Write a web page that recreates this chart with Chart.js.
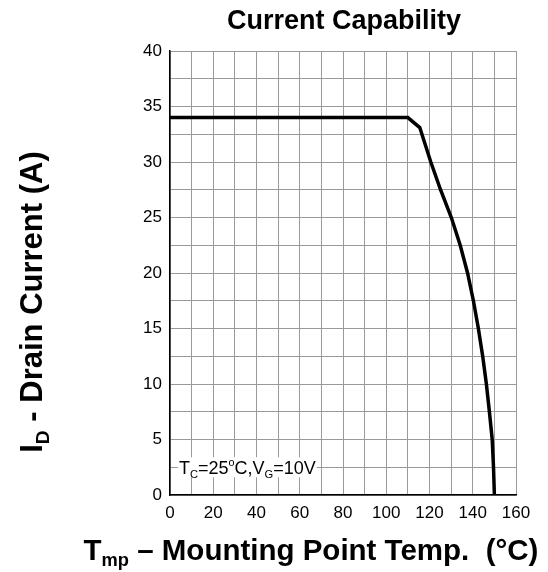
<!DOCTYPE html>
<html>
<head>
<meta charset="utf-8">
<script src="https://cdn.jsdelivr.net/npm/chart.js@4.4.0/dist/chart.umd.min.js"></script>
<style>
    html, body { margin: 0; padding: 0; background: #fff; }
    #wrap { width: 548px; height: 572px; }
</style>
</head>
<body>
<div id="wrap"><canvas id="capChart"></canvas></div>
<script>
// Данные кривой (Tmp, ID)
const tempPoints = [0, 110, 115.5, 120.6, 125.1, 130.1, 134.2, 137.6, 140.3, 142.6, 144.6, 146.3, 147.7, 149, 149.6, 150];
const currentPoints = [34, 34, 33.1, 30, 27.5, 25, 22.5, 20, 17.5, 15, 12.5, 10, 7.5, 5, 2.5, 0];

const xMin = 0, xMax = 160, xStep = 10, xLabelEvery = 20;
const yMin = 0, yMax = 40, yStep = 2.5, yLabelEvery = 5;

const FONT = '"Liberation Sans", Arial, sans-serif';

// Подписи с индексами
function drawRich(ctx, parts, size, bold) {
    let x = 0;
    parts.forEach(p => {
        let s = size, dy = 0;
        if (p.sub) { s = size * 0.62; dy = size * 0.22; }
        if (p.sup) { s = size * 0.6; dy = -size * 0.45; }
        ctx.font = (bold ? 'bold ' : '') + s + 'px ' + FONT;
        ctx.fillText(p.t, x, dy);
        x += ctx.measureText(p.t).width;
    });
    return x;
}
function richWidth(ctx, parts, size, bold) {
    let w = 0;
    parts.forEach(p => {
        let s = size;
        if (p.sub) s = size * 0.62;
        if (p.sup) s = size * 0.6;
        ctx.font = (bold ? 'bold ' : '') + s + 'px ' + FONT;
        w += ctx.measureText(p.t).width;
    });
    return w;
}

const textPlugin = {
    id: 'texts',
    afterDraw(chart) {
        const ctx = chart.ctx;
        const area = chart.chartArea;
        ctx.save();
        ctx.fillStyle = '#000';
        ctx.textBaseline = 'alphabetic';
        ctx.textAlign = 'left';

        // Заголовок
        const title = [{ t: 'Current Capability' }];
        let w = richWidth(ctx, title, 27, true);
        ctx.save();
        ctx.translate(344 - w / 2, 29);
        drawRich(ctx, title, 27, true);
        ctx.restore();

        // Ось X
        const xt = [{ t: 'T' }, { t: 'mp', sub: true }, { t: ' \u2013 Mounting Point Temp.  (\u00b0C)' }];
        w = richWidth(ctx, xt, 29.5, true);
        ctx.save();
        ctx.translate(311 - w / 2, 560);
        drawRich(ctx, xt, 29.5, true);
        ctx.restore();

        // Ось Y
        const yt = [{ t: 'I' }, { t: 'D', sub: true }, { t: ' - Drain Current (A)' }];
        w = richWidth(ctx, yt, 31, true);
        ctx.save();
        ctx.translate(42, 302 + w / 2);
        ctx.rotate(-Math.PI / 2);
        drawRich(ctx, yt, 31, true);
        ctx.restore();

        // Условия
        const note = [{ t: 'T' }, { t: 'C', sub: true }, { t: '=25' }, { t: 'o', sup: true }, { t: 'C,V' }, { t: 'G', sub: true }, { t: '=10V' }];
        w = richWidth(ctx, note, 18, false);
        const nx = area.left + 9, ny = chart.scales.y.getPixelForValue(2.5);
        ctx.fillStyle = '#fff';
        ctx.fillRect(nx - 1, ny - 10, w + 2, 20);
        ctx.fillStyle = '#000';
        ctx.save();
        ctx.translate(nx, ny + 6.5);
        drawRich(ctx, note, 18, false);
        ctx.restore();

        ctx.restore();
    }
};

const ctx = document.getElementById('capChart').getContext('2d');
new Chart(ctx, {
    type: 'line',
    data: {
        datasets: [{
            data: tempPoints.map((t, i) => ({ x: t, y: currentPoints[i] })),
            borderColor: '#000',
            borderWidth: 3.5,
            pointRadius: 0,
            tension: 0,
            fill: false
        }]
    },
    options: {
        responsive: true,
        maintainAspectRatio: false,
        animation: false,
        layout: {
            padding: { left: 0, top: 51, right: 32, bottom: 47 }
        },
        plugins: {
            legend: { display: false },
            title: { display: false },
            tooltip: { enabled: false }
        },
        scales: {
            x: {
                type: 'linear',
                min: xMin,
                max: xMax,
                ticks: {
                    stepSize: xStep,
                    autoSkip: false,
                    maxRotation: 0,
                    padding: 8,
                    color: '#000',
                    font: { family: FONT, size: 17 },
                    callback: v => (v % xLabelEvery === 0 ? v : '')
                },
                grid: { color: '#9a9a9a', lineWidth: 1, drawTicks: false },
                border: { color: '#000', width: 1.5 },
                afterFit: s => { s.height = 30; }
            },
            y: {
                type: 'linear',
                min: yMin,
                max: yMax,
                ticks: {
                    stepSize: yStep,
                    autoSkip: false,
                    padding: 8,
                    color: '#000',
                    font: { family: FONT, size: 17 },
                    callback: v => (v % yLabelEvery === 0 ? v : '')
                },
                grid: { color: '#9a9a9a', lineWidth: 1, drawTicks: false },
                border: { color: '#000', width: 1.5 },
                afterFit: s => { s.width = 170; }
            }
        }
    },
    plugins: [textPlugin]
});
</script>
</body>
</html>
